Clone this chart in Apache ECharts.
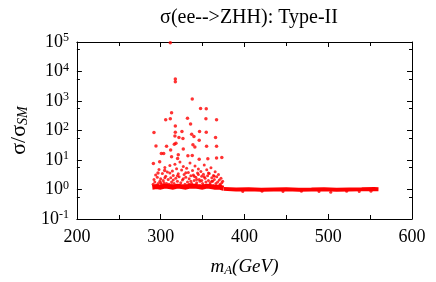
<!DOCTYPE html>
<html>
<head>
<meta charset="utf-8">
<script src="https://cdn.jsdelivr.net/npm/echarts@6/dist/echarts.min.js"></script>
<style>html,body{margin:0;padding:0;background:#fff}#c{width:436px;height:282px}</style>
</head>
<body>
<div id="c"></div>
<script>
// ---- data ----
const xTicks = [200, 300, 400, 500, 600];
const yTicks = [0.1, 1, 10, 100, 1000, 10000, 100000];

// dense band, low-mass part (290-375 GeV)
const bandLowX = [290, 295, 300, 305, 310, 315, 320, 325, 330, 335, 340, 345, 350, 355, 360, 365, 370, 375];
const bandLowY = [1.2, 1.25, 1.2, 1.3, 1.25, 1.2, 1.3, 1.25, 1.2, 1.3, 1.3, 1.25, 1.2, 1.3, 1.25, 1.2, 1.2, 1.1];
// dense band, high-mass part (375-560 GeV)
const bandHighX = [375, 390, 405, 420, 435, 450, 465, 480, 495, 510, 525, 540, 555, 560];
const bandHighY = [1.05, 1.0, 1.02, 0.98, 1.0, 1.01, 0.99, 1.0, 1.02, 0.99, 1.0, 1.01, 1.03, 1.02];

// scattered points above the band
const outlierMass = [311.5, 317.5, 317.5, 337.7, 347.6, 354.4, 313, 306, 311.5, 332, 354, 335.7, 366.7, 317.5,
  292, 317.5, 325.4, 346.4, 354.4, 317, 321.8, 326.6, 337, 339.7, 365.5,
  294.4, 307, 316.3, 318.2, 338.5, 340.8, 346, 354.8, 366.7,
  300.8, 303.6, 311.9, 313, 321, 327, 320.2, 332.5, 337.7, 346, 356.3, 366.7, 373,
  291.3, 298.8, 304.8, 296.8];
const outlierRatio = [95000, 4500, 5600, 1160, 560, 545, 400, 230, 250, 262, 250, 166, 230, 143,
  86, 88, 93, 93, 88, 65, 58, 54, 74, 63, 58,
  30, 29, 34, 37, 33, 27.5, 47, 29, 29,
  16.5, 16.5, 22, 13, 15, 23.6, 11.3, 13.9, 14.2, 10.5, 11, 11.6, 12.2,
  7.6, 8.8, 4.4, 3.6];

// cloud of points between 1 and 10 (290-375 GeV)
const cloudMass = [291, 292, 293, 294, 295, 296, 297, 298, 299, 300, 301, 302, 303, 304, 305, 306, 307, 308, 309, 310,
  311, 312, 313, 314, 315, 316, 317, 318, 319, 320, 321, 322, 323, 324, 325, 326, 327, 328, 329, 330,
  331, 332, 333, 334, 335, 336, 337, 338, 339, 340, 341, 342, 343, 344, 345, 346, 347, 348, 349, 350,
  351, 352, 353, 354, 355, 356, 357, 358, 359, 360, 361, 362, 363, 364, 365, 366, 367, 368, 369, 370,
  371, 372, 373, 374,
  293, 297, 301, 306, 309, 313, 318, 322, 326, 331, 334, 338, 342, 347, 351, 355, 359, 363, 367, 371,
  336, 340, 343, 345, 349, 352, 357, 361, 364, 330, 327, 320, 315, 311, 305, 300];
const cloudRatio = [1.5, 2.2, 1.8, 3.1, 1.4, 2.6, 1.6, 4.8, 1.9, 2.3, 1.5, 3.5, 2.0, 1.7, 5.6, 2.8, 1.6, 3.9, 2.2, 1.5,
  6.5, 2.5, 1.8, 4.2, 3.0, 1.6, 7.2, 2.4, 5.1, 1.9, 3.4, 2.7, 8.5, 1.7, 4.6, 2.1, 6.0, 3.2, 1.5, 2.6,
  5.3, 1.8, 3.8, 2.3, 7.9, 2.9, 1.6, 4.4, 3.1, 2.0, 6.3, 2.6, 1.7, 3.6, 5.0, 2.2, 1.9, 4.1, 2.8, 1.6,
  3.3, 6.8, 2.4, 1.8, 4.7, 2.9, 2.0, 3.5, 1.7, 5.5, 2.5, 1.9, 3.0, 2.2, 4.0, 1.6, 2.7, 1.8, 3.2, 2.1,
  1.5, 2.4, 1.7, 1.9,
  1.3, 1.35, 1.3, 1.4, 1.3, 1.45, 1.3, 1.4, 1.3, 1.35, 1.5, 1.3, 1.45, 1.35, 1.4, 1.3, 1.45, 1.35, 1.3, 1.4,
  1.9, 2.8, 2.2, 3.2, 2.0, 2.7, 3.6, 1.9, 2.8, 3.7, 2.3, 2.9, 2.1, 3.6, 2.5, 1.7];

// small dips below the high-mass band
const dipMass = [398, 421, 446, 468, 489, 503, 522, 537, 551];
const dipRatio = [0.86, 0.88, 0.85, 0.87, 0.86, 0.8, 0.87, 0.85, 0.88];

// ---- chart ----
const zip = (a, b) => a.map((v, i) => [v, b[i]]);
const RED = '#ff0000';
const FONT = 'Liberation Serif';

const chart = echarts.init(document.getElementById('c'), null, { renderer: 'canvas' });

const supLabel = v => {
  const e = Math.round(Math.log10(v));
  return '{b|10}{s|' + e + '}';
};

const xCommon = {
  type: 'value', min: xTicks[0], max: xTicks[xTicks.length - 1], interval: 100,
  axisLine: { show: true, onZero: false, lineStyle: { color: '#000', width: 1 } },
  axisTick: { show: true, inside: true, length: 5, lineStyle: { color: '#000' } },
  minorTick: { show: true, splitNumber: 2, length: 4, lineStyle: { color: '#000' } },
  splitLine: { show: false }
};
const yCommon = {
  type: 'log', logBase: 10, min: yTicks[0], max: yTicks[yTicks.length - 1],
  axisLine: { show: true, onZero: false, lineStyle: { color: '#000', width: 1 } },
  axisTick: { show: true, inside: true, length: 5, lineStyle: { color: '#000' } },
  minorTick: { show: true, splitNumber: 2, length: 3, lineStyle: { color: '#000' } },
  splitLine: { show: false }
};

chart.setOption({
  animation: false,
  backgroundColor: '#fff',
  title: {
    text: 'σ(ee-->ZHH): Type-II',
    left: 244, top: 3, textAlign: 'center',
    textStyle: { fontFamily: FONT, fontSize: 20, fontWeight: 'normal', color: '#000' }
  },
  grid: { left: 76, right: 24, top: 42, bottom: 58, containLabel: false },
  xAxis: [
    Object.assign({}, xCommon, {
      position: 'bottom',
      axisLabel: { show: true, fontFamily: FONT, fontSize: 18, color: '#000', margin: 9 },
      name: '{i|m}{sub|A}{i|(GeV)}',
      nameLocation: 'middle', nameGap: 38,
      nameTextStyle: {
        rich: {
          i: { fontFamily: FONT, fontStyle: 'italic', fontSize: 19, color: '#000' },
          sub: { fontFamily: FONT, fontStyle: 'italic', fontSize: 13, color: '#000', verticalAlign: 'bottom', padding: [7, 0, 0, 0] }
        }
      }
    }),
    Object.assign({}, xCommon, { position: 'top', axisLabel: { show: false } })
  ],
  yAxis: [
    Object.assign({}, yCommon, {
      position: 'left',
      axisLabel: {
        show: true, margin: 8, formatter: supLabel,
        rich: {
          b: { fontFamily: FONT, fontSize: 18, color: '#000' },
          s: { fontFamily: FONT, fontSize: 12, color: '#000', verticalAlign: 'top', padding: [0, 0, 8, 0] }
        }
      },
      name: '{g|σ/σ}{sub|SM}',
      nameLocation: 'middle', nameGap: 37, nameRotate: 90,
      nameTextStyle: {
        rich: {
          g: { fontFamily: FONT, fontSize: 22, color: '#000' },
          sub: { fontFamily: FONT, fontStyle: 'italic', fontSize: 14, color: '#000', verticalAlign: 'bottom', padding: [8, 0, 0, 0] }
        }
      }
    }),
    Object.assign({}, yCommon, { position: 'right', axisLabel: { show: false } })
  ],
  series: [
    {
      type: 'line', xAxisIndex: 0, yAxisIndex: 0, data: zip(bandLowX, bandLowY),
      showSymbol: false, symbol: 'none', lineStyle: { color: RED, width: 5 }, z: 2
    },
    {
      type: 'line', xAxisIndex: 0, yAxisIndex: 0, data: zip(bandHighX, bandHighY),
      showSymbol: false, symbol: 'none', lineStyle: { color: RED, width: 4 }, z: 2
    },
    {
      type: 'scatter', xAxisIndex: 0, yAxisIndex: 0, data: zip(cloudMass, cloudRatio),
      symbol: 'circle', symbolSize: 3, itemStyle: { color: RED }, z: 3
    },
    {
      type: 'scatter', xAxisIndex: 0, yAxisIndex: 0, data: zip(outlierMass, outlierRatio),
      symbol: 'circle', symbolSize: 3.5, itemStyle: { color: RED }, z: 3
    },
    {
      type: 'scatter', xAxisIndex: 0, yAxisIndex: 0, data: zip(dipMass, dipRatio),
      symbol: 'circle', symbolSize: 3, itemStyle: { color: RED }, z: 3
    }
  ]
});
</script>
</body>
</html>
